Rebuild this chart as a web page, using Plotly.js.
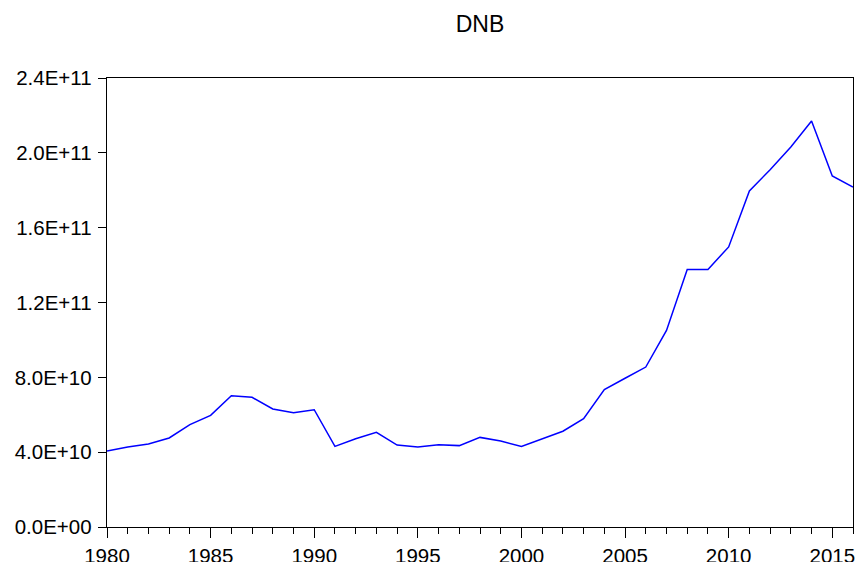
<!DOCTYPE html>
<html>
<head>
<meta charset="utf-8">
<script src="https://cdn.plot.ly/plotly-3.0.1.min.js"></script>
<style>html,body{margin:0;padding:0;background:#fff;}#chart{width:858px;height:562px;}</style>
</head>
<body>
<div id="chart"></div>
<script>
const years = [1980,1981,1982,1983,1984,1985,1986,1987,1988,1989,1990,1991,1992,1993,1994,1995,1996,1997,1998,1999,2000,2001,2002,2003,2004,2005,2006,2007,2008,2009,2010,2011,2012,2013,2014,2015,2016];
const dnb = [4.06e10,4.28e10,4.44e10,4.76e10,5.47e10,5.97e10,7.02e10,6.93e10,6.31e10,6.11e10,6.27e10,4.31e10,4.72e10,5.06e10,4.38e10,4.28e10,4.40e10,4.35e10,4.79e10,4.60e10,4.30e10,4.69e10,5.12e10,5.79e10,7.34e10,7.95e10,8.55e10,1.051e11,1.377e11,1.377e11,1.497e11,1.796e11,1.910e11,2.031e11,2.170e11,1.876e11,1.817e11];
const yTickVals = [0,4e10,8e10,1.2e11,1.6e11,2.0e11,2.4e11];
const yTickLabels = ["0.0E+00","4.0E+10","8.0E+10","1.2E+11","1.6E+11","2.0E+11","2.4E+11"];
const xTickVals = [1980,1985,1990,1995,2000,2005,2010,2015];
const xTickLabels = ["1980","1985","1990","1995","2000","2005","2010","2015"];

const font = {family: "Liberation Sans, Arial, sans-serif", size: 20.5, color: "#000"};
Plotly.newPlot("chart", [{
  x: years, y: dnb, type: "scatter", mode: "lines",
  line: {color: "#0000ff", width: 1.5}, hoverinfo: "skip"
}], {
  width: 858, height: 562,
  margin: {l: 107, r: 5, t: 78, b: 35, pad: 0},
  paper_bgcolor: "#fff", plot_bgcolor: "#fff",
  showlegend: false,
  font: font,
  title: {text: "DNB", font: {family: font.family, size: 23, color: "#000"}, x: 0.5594, xanchor: "center", y: 0.957, yanchor: "middle"},
  xaxis: {
    range: [1980, 2016], showgrid: false, zeroline: false,
    showline: true, linecolor: "#000", linewidth: 1.3, mirror: true,
    ticks: "outside", ticklen: 10, tickwidth: 1, tickcolor: "#000",
    tickvals: xTickVals, ticktext: xTickLabels, tickfont: font,
    minor: {dtick: 1, tick0: 1980, ticks: "outside", ticklen: 6, tickwidth: 1, tickcolor: "#000", showgrid: false}
  },
  yaxis: {
    range: [0, 2.4e11], showgrid: false, zeroline: false,
    showline: true, linecolor: "#000", linewidth: 1.3, mirror: true,
    ticks: "outside", ticklen: 8, tickwidth: 1, tickcolor: "#000",
    ticklabelstandoff: 2,
    tickvals: yTickVals, ticktext: yTickLabels, tickfont: font
  }
}, {staticPlot: true});
</script>
</body>
</html>
